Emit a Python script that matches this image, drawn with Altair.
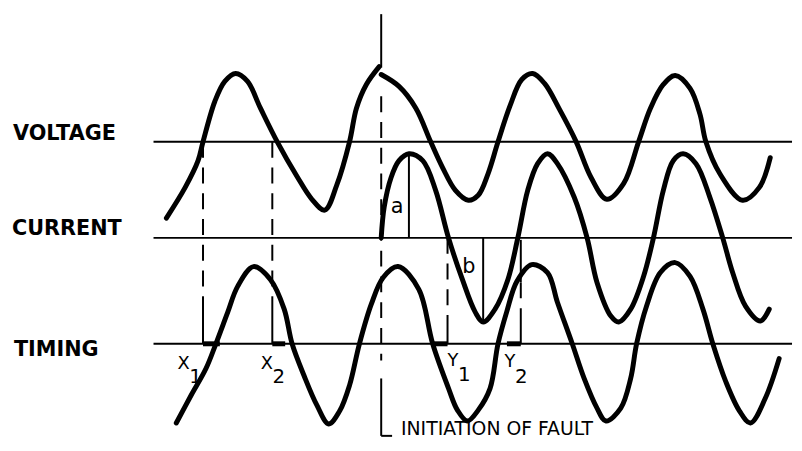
import altair as alt
import pandas as pd

# ---- frame: horizontal position (time units as read), vertical position read from the top
X_DOMAIN = [8, 802]
TOP, BOTTOM = 8, 443

# baselines (zero line of each trace)
BASE_V = 141
BASE_C = 238
BASE_T = 345
LINE_START, LINE_END = 155, 800

# ---- voltage before the fault (time, amplitude above its baseline)
volt_pre_t = [168, 187, 200, 205, 217, 227, 238, 250, 263, 280, 300, 315, 328, 340, 353, 360, 370, 383]
volt_pre_a = [-77, -46, -19, 0, 41, 61, 69, 61, 34, 0, -35, -58, -69, -44, 0, 34, 58, 76]

# ---- voltage after the fault
volt_post_t = [385, 403, 420, 435, 447, 460, 473, 483, 493, 503, 515, 527, 538, 550, 565, 582, 597,
               613, 630, 645, 657, 670, 682, 697, 707, 713, 727, 750, 767, 778]
volt_post_a = [68, 56, 34, 0, -26, -49, -59, -54, -32, 0, 36, 63, 69, 59, 33, 0, -36,
               -58, -42, 0, 34, 58, 67, 54, 28, 0, -32, -59, -46, -16]

# ---- current (starts at the fault)
curr_t = [385, 388, 395, 403, 413, 427, 440, 453, 467, 480, 488, 500, 513, 523, 533, 543, 553, 563,
          580, 593, 603, 617, 625, 637, 650, 660, 670, 680, 690, 703, 717, 730, 740, 753, 768, 777]
curr_a = [0, 31, 61, 78, 85, 78, 48, 0, -42, -75, -85, -72, -42, 0, 48, 75, 85, 75,
          41, 0, -45, -79, -85, -72, -39, 0, 48, 78, 85, 75, 41, 0, -35, -69, -84, -72]

# ---- timing wave
tim_t = [178, 193, 208, 218, 230, 240, 256, 273, 287, 295, 307, 320, 332, 343, 353, 363, 375, 387, 402,
         423, 437, 453, 462, 472, 483, 495, 503, 512, 522, 537, 553, 563, 578, 590, 603, 612, 627, 637,
         643, 653, 667, 682, 697, 710, 720, 733, 747, 758, 773, 787]
tim_a = [-80, -52, -25, 0, 32, 58, 78, 65, 35, 0, -32, -62, -81, -68, -42, 0, 40, 67, 78,
         55, 0, -45, -67, -78, -67, -45, 0, 33, 63, 80, 72, 42, 0, -35, -65, -78, -65, -35,
         0, 38, 72, 82, 68, 35, 0, -38, -68, -80, -55, -15]

# ---- straight strokes: (t1, pos1, t2, pos2)
thin_solid = [(385, 12, 385, 66), (385, 380, 385, 438), (385, 438, 396, 438),
              (205, 297, 205, 345), (275, 297, 275, 345),
              (452, 325, 452, 345), (526, 240, 526, 283), (526, 325, 526, 345),
              (413, 153, 413, 238), (488, 238, 488, 323)]
dashed = [(385, 95, 385, 362), (205, 141, 205, 297), (275, 141, 275, 297),
          (452, 238, 452, 325), (526, 283, 526, 325)]
bold_steps = [(205, 345, 222, 345), (275, 345, 288, 345), (437, 345, 452, 345), (512, 345, 526, 345)]

# ---- texts
side_labels = ["VOLTAGE", "CURRENT", "TIMING"]
side_x = [13, 12, 14]
side_y = [139, 235, 357]

mark_labels = ["a", "b", "X", "1", "X", "2", "Y", "1", "Y", "2"]
mark_x = [401, 473.5, 185.5, 197.5, 269.5, 281.5, 457.5, 469, 515, 526.5]
mark_y = [213, 273, 370, 385, 370, 385, 367, 383, 368, 385]
mark_size = [21, 21, 18, 20, 18, 20, 18, 20, 18, 20]

fault_label = "INITIATION OF FAULT"
fault_x, fault_y = 405, 437


def lvl(p):
    return BOTTOM - p


rows = []
for name, ts, amps, base in [("vpre", volt_pre_t, volt_pre_a, BASE_V),
                             ("vpost", volt_post_t, volt_post_a, BASE_V),
                             ("cur", curr_t, curr_a, BASE_C),
                             ("tim", tim_t, tim_a, BASE_T)]:
    for i, (t, a) in enumerate(zip(ts, amps)):
        rows.append({"trace": name, "order": i, "t": t, "y": lvl(base) + a})
curves = pd.DataFrame(rows)


def seg_df(segs):
    return pd.DataFrame([{"t1": a, "y1": lvl(b), "t2": c, "y2": lvl(d)} for a, b, c, d in segs])


baselines = seg_df([(LINE_START, b, LINE_END, b) for b in (BASE_V, BASE_C, BASE_T)])

xs = alt.Scale(domain=X_DOMAIN, nice=False, zero=False)
ys = alt.Scale(domain=[0, BOTTOM - TOP], nice=False, zero=False)


def rule_layer(df, width, dash=None):
    kw = dict(color="black", strokeWidth=width, strokeCap="butt")
    if dash:
        kw["strokeDash"] = dash
    return alt.Chart(df).mark_rule(**kw).encode(
        x=alt.X("t1:Q", scale=xs, axis=None), x2="t2:Q",
        y=alt.Y("y1:Q", scale=ys, axis=None), y2="y2:Q")


curve_layer = alt.Chart(curves).mark_line(
    color="black", strokeWidth=5, interpolate="catmull-rom", strokeCap="round", strokeJoin="round"
).encode(
    x=alt.X("t:Q", scale=xs, axis=None),
    y=alt.Y("y:Q", scale=ys, axis=None),
    detail="trace:N",
    order="order:Q",
)

side_df = pd.DataFrame({"text": side_labels, "t": side_x, "y": [lvl(v) for v in side_y]})
side_layer = alt.Chart(side_df).mark_text(
    align="left", baseline="alphabetic", font="DejaVu Sans", fontWeight="bold", fontSize=21, color="black"
).encode(x=alt.X("t:Q", scale=xs, axis=None), y=alt.Y("y:Q", scale=ys, axis=None), text="text:N")

mark_df = pd.DataFrame({"text": mark_labels, "t": mark_x, "y": [lvl(v) for v in mark_y], "fs": mark_size})
mark_layer = alt.Chart(mark_df).mark_text(
    align="center", baseline="alphabetic", font="DejaVu Sans", color="black"
).encode(x=alt.X("t:Q", scale=xs, axis=None), y=alt.Y("y:Q", scale=ys, axis=None),
         text="text:N", size=alt.Size("fs:Q", scale=None, legend=None))

fault_df = pd.DataFrame({"text": [fault_label], "t": [fault_x], "y": [lvl(fault_y)]})
fault_layer = alt.Chart(fault_df).mark_text(
    align="left", baseline="alphabetic", font="DejaVu Sans", fontSize=19, color="black"
).encode(x=alt.X("t:Q", scale=xs, axis=None), y=alt.Y("y:Q", scale=ys, axis=None), text="text:N")

chart = alt.layer(
    rule_layer(baselines, 2),
    rule_layer(seg_df(dashed), 2, [16, 10]),
    rule_layer(seg_df(thin_solid), 2),
    rule_layer(seg_df(bold_steps), 5),
    curve_layer,
    side_layer,
    mark_layer,
    fault_layer,
).properties(
    width=X_DOMAIN[1] - X_DOMAIN[0],
    height=BOTTOM - TOP,
    padding=0,
    autosize=alt.AutoSizeParams(type="none"),
    background="white",
).configure_view(stroke=None)

chart.save("out.html", embed_options={"renderer": "svg", "actions": False})
